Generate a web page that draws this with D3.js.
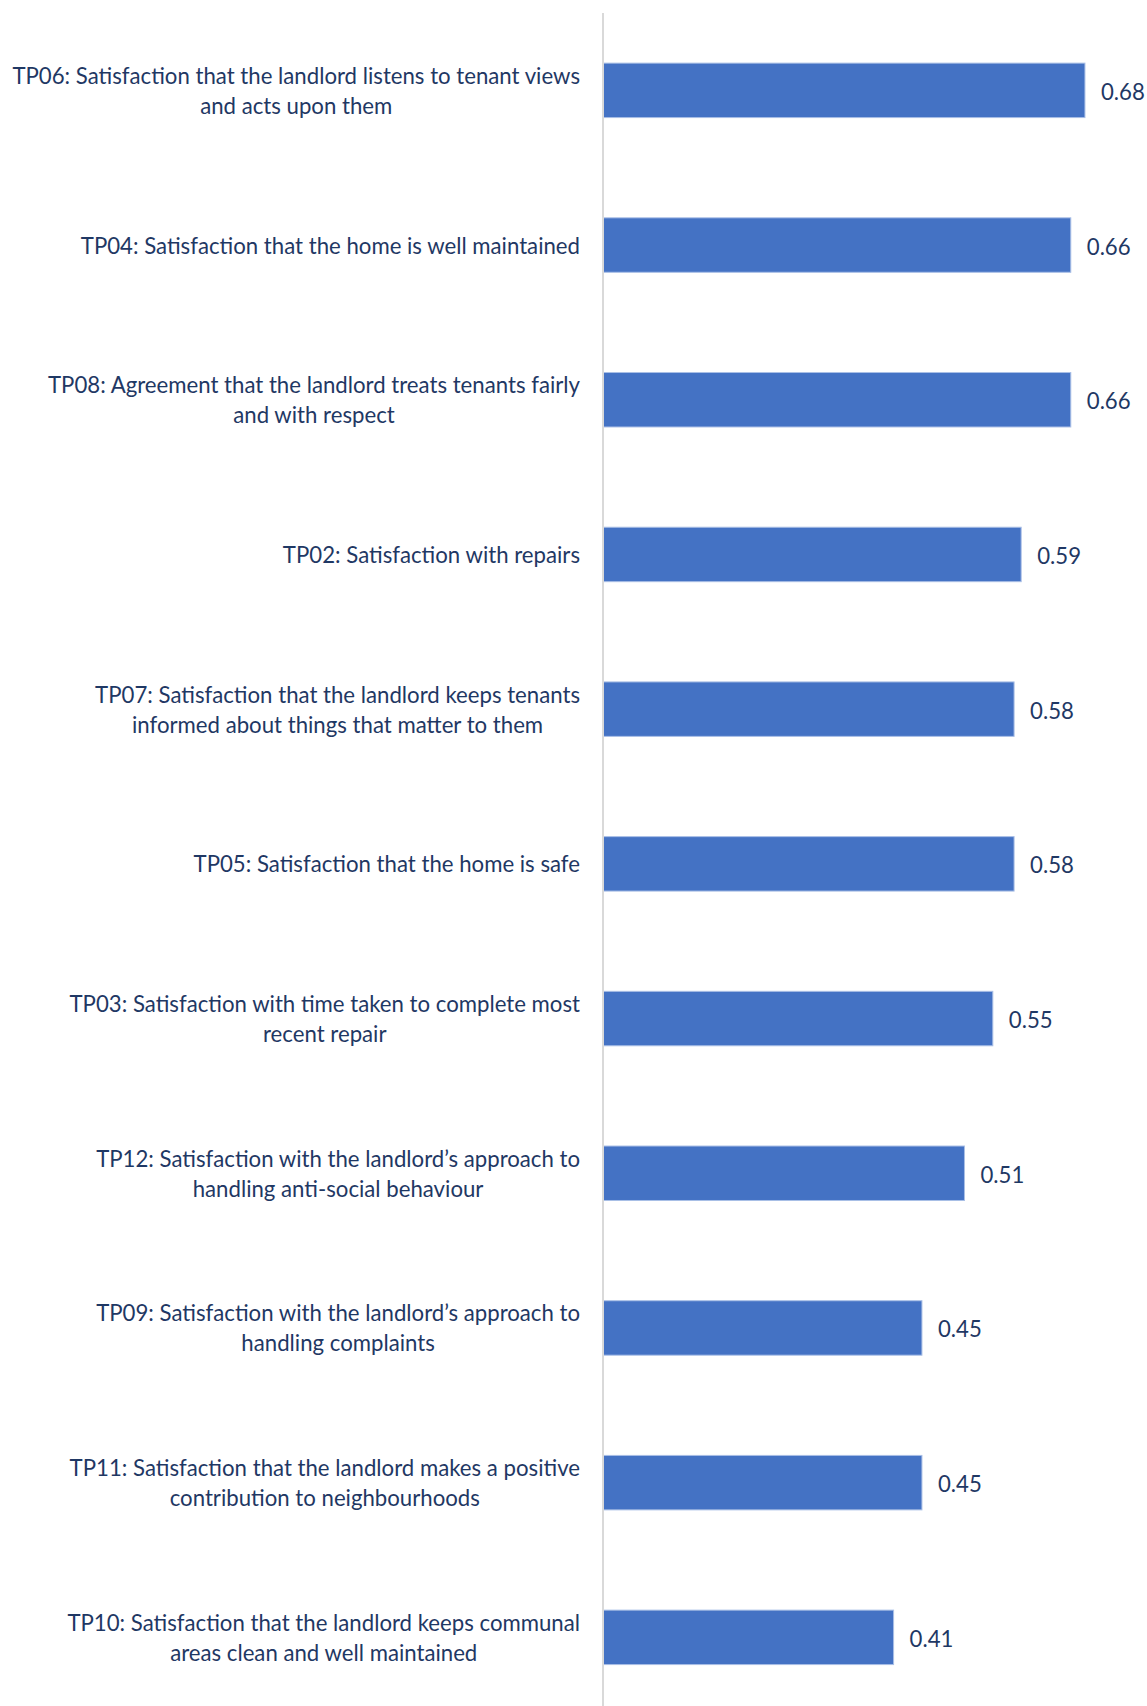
<!DOCTYPE html>
<html>
<head>
<meta charset="utf-8">
<script src="https://cdn.jsdelivr.net/npm/d3@7"></script>
<style>
  html, body { margin: 0; padding: 0; background: #ffffff; }
  svg { display: block; }
</style>
</head>
<body>
<script>
// Tenant perception measures, sorted from highest to lowest score
const categories = [
  "TP06: Satisfaction that the landlord listens to tenant views\nand acts upon them",
  "TP04: Satisfaction that the home is well maintained",
  "TP08: Agreement that the landlord treats tenants fairly\nand with respect",
  "TP02: Satisfaction with repairs",
  "TP07: Satisfaction that the landlord keeps tenants\ninformed about things that matter to them",
  "TP05: Satisfaction that the home is safe",
  "TP03: Satisfaction with time taken to complete most\nrecent repair",
  "TP12: Satisfaction with the landlord\u2019s approach to\nhandling anti-social behaviour",
  "TP09: Satisfaction with the landlord\u2019s approach to\nhandling complaints",
  "TP11: Satisfaction that the landlord makes a positive\ncontribution to neighbourhoods",
  "TP10: Satisfaction that the landlord keeps communal\nareas clean and well maintained"
];
const scores = [0.68, 0.66, 0.66, 0.59, 0.58, 0.58, 0.55, 0.51, 0.45, 0.45, 0.41];
const xDomain = [0, 0.8];

const W = 1147, H = 1706;
const axisX = 603;
const labelRight = 580;
const fontFamily = "Lato, 'Open Sans', sans-serif";
const fontSize = 22.2;
const textColor = "#1F3864";

const data = categories.map((c, i) => ({ cat: c, value: scores[i] }));

const svg = d3.select("body").append("svg")
  .attr("width", W).attr("height", H);

const x = d3.scaleLinear().domain(xDomain).range([axisX, axisX + 567]);
const y = d3.scaleBand()
  .domain(categories)
  .range([13, 13 + 154.7 * categories.length])
  .paddingInner(0.648)
  .paddingOuter(0.324);

// Bars
svg.append("g").selectAll("rect")
  .data(data)
  .join("rect")
  .attr("x", x(0))
  .attr("y", d => y(d.cat))
  .attr("width", d => x(d.value) - x(0))
  .attr("height", y.bandwidth())
  .attr("fill", "#4472C4")
  .attr("stroke", "#A9BFE6")
  .attr("stroke-width", 1);

// Category axis line
svg.append("line")
  .attr("x1", axisX).attr("x2", axisX)
  .attr("y1", 13).attr("y2", H)
  .attr("stroke", "#D9D9D9")
  .attr("stroke-width", 2);

// Category labels: wrapped lines centred on a common axis, block right-aligned
const lineHeight = 30;
const labels = svg.append("g")
  .attr("font-family", fontFamily)
  .attr("font-size", fontSize)
  .attr("fill", textColor);

data.forEach(d => {
  const lines = d.cat.split("\n");
  const cy = y(d.cat) + y.bandwidth() / 2;
  const g = labels.append("g");
  const texts = lines.map((ln, i) =>
    g.append("text")
      .attr("y", cy + (i - (lines.length - 1) / 2) * lineHeight + 8.5)
      .attr("text-anchor", "middle")
      .text(ln));
  const maxW = d3.max(texts, t => t.node().getComputedTextLength());
  texts.forEach(t => t.attr("x", labelRight - maxW / 2));
});

// Value labels
svg.append("g")
  .attr("font-family", fontFamily)
  .attr("font-size", fontSize)
  .attr("fill", textColor)
  .selectAll("text")
  .data(data)
  .join("text")
  .attr("x", d => x(d.value) + 16)
  .attr("y", d => y(d.cat) + y.bandwidth() / 2 + 9.5)
  .text(d => d3.format(".2f")(d.value));
</script>
</body>
</html>
